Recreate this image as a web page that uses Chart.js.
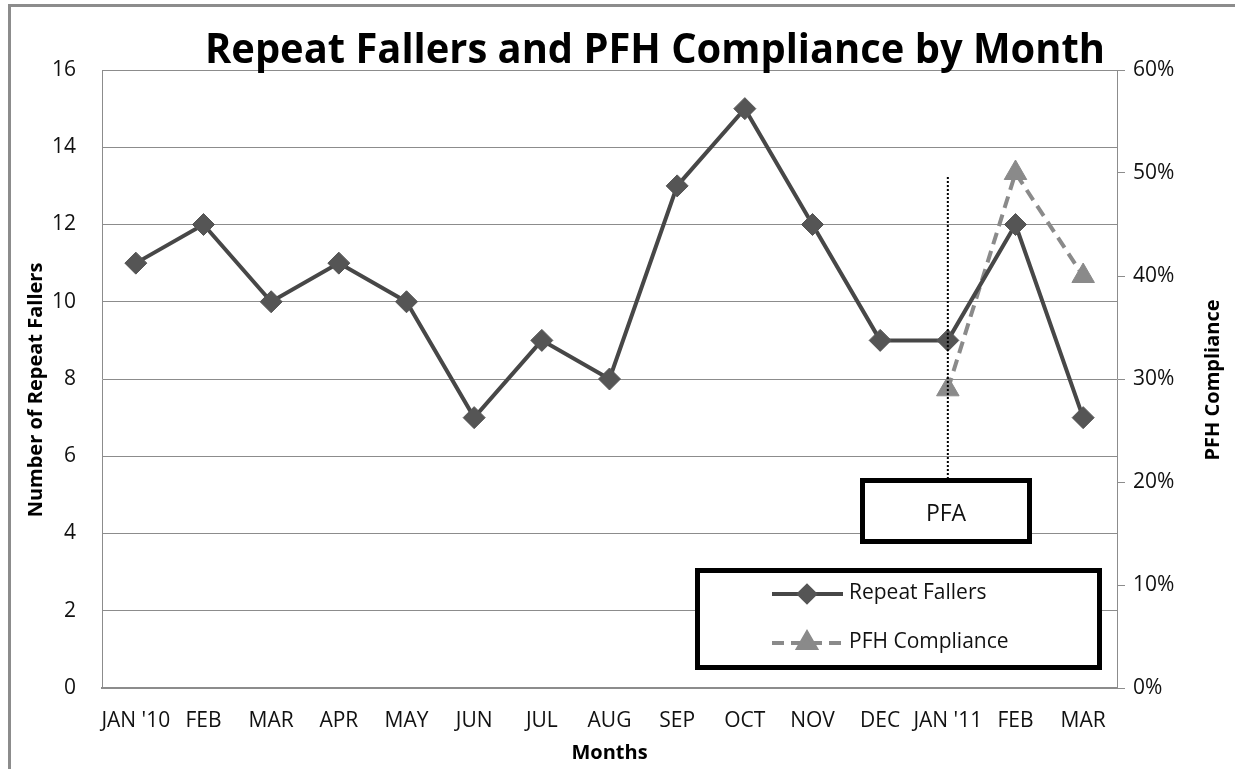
<!DOCTYPE html>
<html>
<head>
<meta charset="utf-8">
<script src="https://cdn.jsdelivr.net/npm/chart.js@4.4.1/dist/chart.umd.min.js"></script>
<style>
	html, body { margin: 0; padding: 0; background: #fff; }
	#wrap { width: 1235px; height: 769px; position: relative; }
</style>
</head>
<body>
<div id="wrap"><canvas id="falls_chart" width="1235" height="769"></canvas></div>
<script>
const months = ["JAN '10", "FEB", "MAR", "APR", "MAY", "JUN", "JUL", "AUG", "SEP", "OCT", "NOV", "DEC", "JAN '11", "FEB", "MAR"];
const repeatFallers = [11, 12, 10, 11, 10, 7, 9, 8, 13, 15, 12, 9, 9, 12, 7];
const pfhCompliance = [null, null, null, null, null, null, null, null, null, null, null, null, 29, 50, 40];
const pfaMonthIndex = 12;

const FONT = "'Open Sans', 'Noto Sans', sans-serif";
const GRID = "#8c8c8c";

// background, frame, title, axis titles, PFA marker and legend box
const decorations = {
	id: "decorations",
	beforeDraw(chart) {
		const ctx = chart.ctx;
		ctx.save();
		ctx.fillStyle = "#fff";
		ctx.fillRect(0, 0, chart.width, chart.height);
		ctx.strokeStyle = "#8c8c8c";
		ctx.lineWidth = 3;
		ctx.strokeRect(9.5, 5.5, chart.width + 20, chart.height + 20);
		ctx.restore();
	},
	afterDatasetsDraw(chart) {
		const ctx = chart.ctx;
		const area = chart.chartArea;
		const x = chart.scales.x;
		ctx.save();

		// title
		ctx.fillStyle = "#000";
		ctx.font = "bold 42px " + FONT;
		ctx.textAlign = "center";
		ctx.textBaseline = "alphabetic";
		ctx.fillText("Repeat Fallers and PFH Compliance by Month", 655, 63, 900);

		// axis titles
		ctx.font = "bold 20px " + FONT;
		ctx.fillText("Months", (area.left + area.right) / 2, 759);
		ctx.save();
		ctx.translate(36, 390);
		ctx.rotate(-Math.PI / 2);
		ctx.textBaseline = "middle";
		ctx.fillText("Number of Repeat Fallers", 0, 0, 320);
		ctx.restore();
		ctx.save();
		ctx.translate(1213, 380);
		ctx.rotate(-Math.PI / 2);
		ctx.textBaseline = "middle";
		ctx.fillText("PFH Compliance", 0, 0);
		ctx.restore();

		// PFA dotted line + box
		const px = x.getPixelForValue(pfaMonthIndex);
		ctx.strokeStyle = "#000";
		ctx.lineWidth = 2;
		ctx.setLineDash([2, 2]);
		ctx.beginPath();
		ctx.moveTo(px, 177);
		ctx.lineTo(px, 480);
		ctx.stroke();
		ctx.setLineDash([]);
		ctx.fillStyle = "#fff";
		ctx.fillRect(860, 480, 170, 62);
		ctx.lineWidth = 5;
		ctx.strokeRect(862.5, 480.5, 167, 61);
		ctx.fillStyle = "#111";
		ctx.font = "23px " + FONT;
		ctx.textBaseline = "middle";
		ctx.fillText("PFA", 946, 514);

		// legend box
		ctx.fillStyle = "#fff";
		ctx.fillRect(696, 568, 404, 100);
		ctx.strokeStyle = "#000";
		ctx.lineWidth = 5;
		ctx.strokeRect(697.5, 570.5, 402, 97);
		chart.data.datasets.forEach((ds, i) => {
			const ly = 594 + i * 49;
			ctx.strokeStyle = ds.borderColor;
			ctx.lineWidth = ds.borderWidth;
			ctx.setLineDash(ds.borderDash || []);
			ctx.beginPath();
			ctx.moveTo(772, ly);
			ctx.lineTo(843, ly);
			ctx.stroke();
			ctx.setLineDash([]);
			ctx.fillStyle = ds.pointBackgroundColor;
			ctx.strokeStyle = ds.pointBorderColor;
			Chart.helpers.drawPoint(ctx, {
				pointStyle: ds.pointStyle,
				radius: ds.pointRadius - 3,
				rotation: 0,
				borderWidth: 1
			}, 807, ly);
			ctx.fillStyle = "#111";
			ctx.font = "21px " + FONT;
			ctx.textAlign = "left";
			ctx.textBaseline = "middle";
			ctx.fillText(ds.label, 849, ly - 1);
		});
		ctx.restore();
	}
};

new Chart(document.getElementById("falls_chart"), {
	type: "line",
	data: {
		labels: months,
		datasets: [{
			label: "Repeat Fallers",
			data: repeatFallers,
			yAxisID: "y",
			borderColor: "#474747",
			borderWidth: 4,
			pointStyle: "rectRot",
			pointRadius: 11,
			pointBackgroundColor: "#555555",
			pointBorderColor: "#555555",
			pointBorderWidth: 1,
			tension: 0,
			order: 1
		}, {
			label: "PFH Compliance",
			data: pfhCompliance,
			yAxisID: "y1",
			borderColor: "#8a8a8a",
			borderWidth: 4,
			borderDash: [12, 7],
			pointStyle: "triangle",
			pointRadius: 13,
			pointBackgroundColor: "#8a8a8a",
			pointBorderColor: "#8a8a8a",
			pointBorderWidth: 1,
			tension: 0,
			spanGaps: false,
			order: 2
		}]
	},
	options: {
		responsive: false,
		animation: false,
		layout: { padding: { top: 70, left: 0, right: 0, bottom: 0 } },
		plugins: {
			legend: { display: false },
			tooltip: { enabled: false }
		},
		scales: {
			x: {
				offset: true,
				grid: { drawOnChartArea: false, drawTicks: false, offset: true },
				border: { color: GRID, width: 2 },
				ticks: {
					autoSkip: false,
					maxRotation: 0,
					padding: 20,
					color: "#111",
					font: { family: FONT, size: 21 }
				},
				afterFit(scale) { scale.height = 81; }
			},
			y: {
				position: "left",
				min: 0,
				max: 16,
				grid: { color: GRID, lineWidth: 1, drawTicks: false },
				border: { color: GRID, width: 1 },
				ticks: {
					stepSize: 2,
					padding: 26,
					color: "#111",
					font: { family: FONT, size: 21 }
				},
				afterFit(scale) { scale.width = 102; }
			},
			y1: {
				position: "right",
				min: 0,
				max: 60,
				grid: { drawOnChartArea: false, color: GRID, tickLength: 8 },
				border: { color: GRID, width: 1 },
				ticks: {
					stepSize: 10,
					padding: 8,
					color: "#111",
					font: { family: FONT, size: 21 },
					callback: (v) => v + "%"
				},
				afterFit(scale) { scale.width = 118; }
			}
		}
	},
	plugins: [decorations]
});
</script>
</body>
</html>
